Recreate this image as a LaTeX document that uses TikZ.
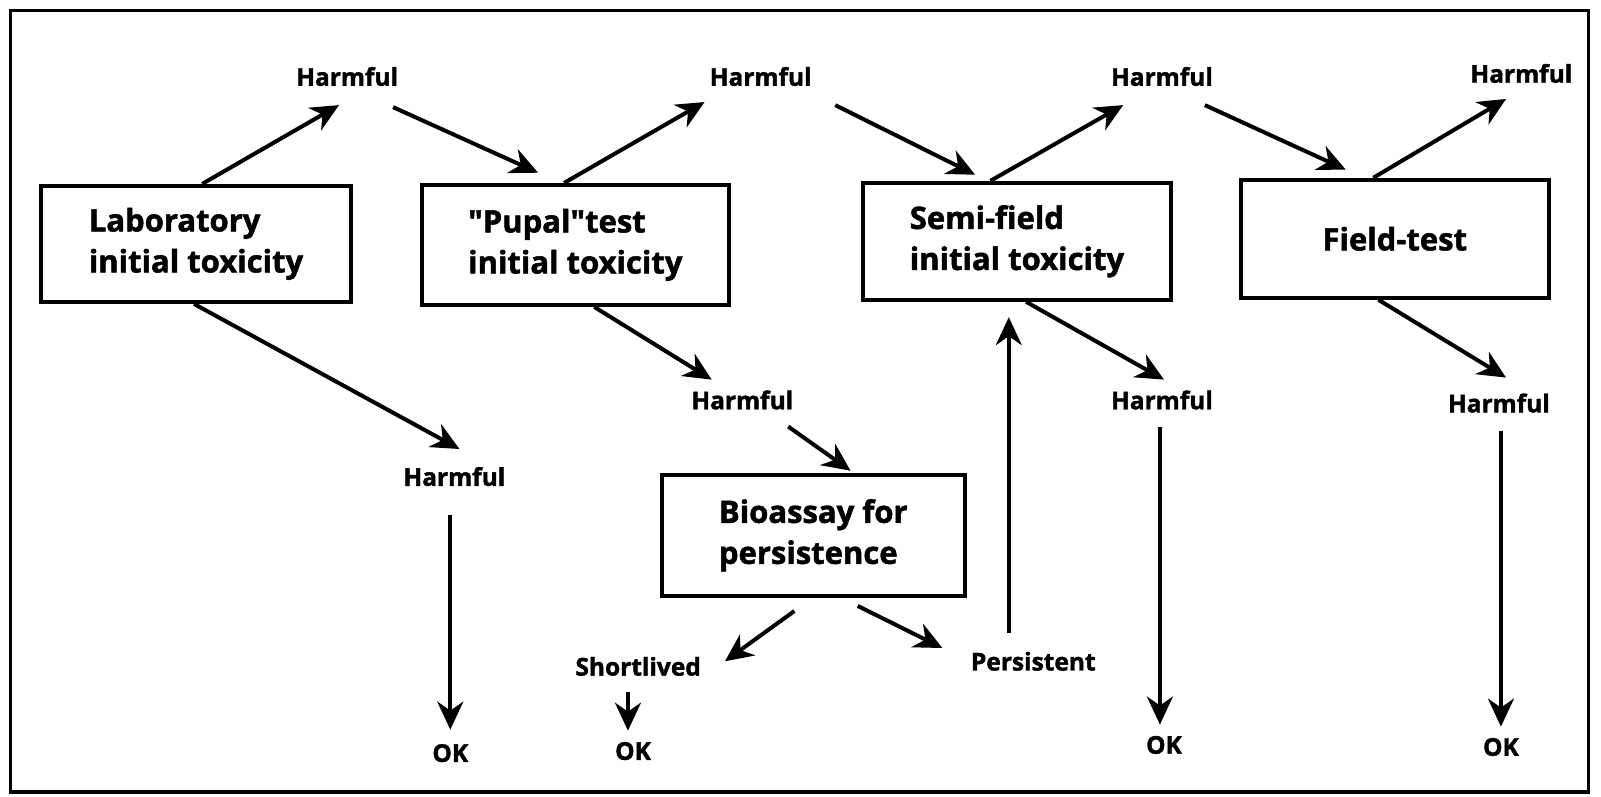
\documentclass[tikz,border=0pt]{standalone}
\usepackage{fontspec}
\setmainfont{Open Sans}[BoldFeatures={FakeBold=1.6}]
\newfontfamily\qfont{Open Sans}[BoldFeatures={FakeBold=1.6}]
\usetikzlibrary{calc,arrows.meta}
\begin{document}
\begin{tikzpicture}[x=1.02105pt,y=-1.02049pt,
  every node/.style={font=\bfseries},
  stepbox/.style={draw,line width=4pt,minimum width=#1,inner sep=0pt,align=left,font=\bfseries\fontsize{31}{41}\selectfont},
  lbl/.style={inner sep=0pt,font=\bfseries\fontsize{24.5}{28}\selectfont},
  arr/.style={line width=4pt,-{Stealth[length=28pt,width=26pt,inset=9pt]}}]
\useasboundingbox (0,0) rectangle (1568,781);
\fill[white] (0,0) rectangle (1568,781);
\draw[line width=3.2pt] (10,10) rectangle (1556,776);
% boxes
\node[stepbox=310,minimum height=116] (lab) at (192,239) {Laboratory\\initial toxicity};
\node[stepbox=307,minimum height=120] (pupal) at (563.5,240) {{\qfont\bfseries"}Pupal{\qfont\bfseries"}test\\initial toxicity};
\node[stepbox=308,minimum height=117] (semi) at (996,236.5) {Semi-field\\initial toxicity};
\node[stepbox=308,minimum height=118] (field) at (1366,234) {Field-test};
\node[stepbox=303,minimum height=121] (bio) at (796.5,524.5) {Bioassay for\\persistence};
% labels
\node[lbl] (h1) at (340,75) {Harmful};
\node[lbl] (h2) at (745,75) {Harmful};
\node[lbl] (h3) at (1138,75) {Harmful};
\node[lbl] (h4) at (1490,72) {Harmful};
\node[lbl] (hm) at (727,392) {Harmful};
\node[lbl] (hs) at (1138,392) {Harmful};
\node[lbl] (hf) at (1468,395) {Harmful};
\node[lbl] (hl) at (445,467) {Harmful};
\node[lbl] (short) at (625,653) {Shortlived};
\node[lbl] (pers) at (1012,648) {Persistent};
\node[lbl] (okl) at (441,738) {OK};
\node[lbl] (oks) at (620,736) {OK};
\node[lbl] (oksm) at (1140,730) {OK};
\node[lbl] (okf) at (1470,732) {OK};
% arrows
\draw[arr] ($(lab.north)+(6,0)$) -- ($(h1)+(-8,28)$);
\draw[arr] ($(h1)+(45,30)$) -- ($(pupal.north)+(-36.5,-10)$);
\draw[arr] ($(pupal.north)+(-11,0)$) -- ($(h2)+(-55,25)$);
\draw[arr] ($(h2)+(73,28)$) -- ($(semi.north)+(-41,-6)$);
\draw[arr] ($(semi.north)+(-26,0)$) -- ($(h3)+(-38,28)$);
\draw[arr] ($(h3)+(42,28)$) -- ($(field.north)+(-48,-8)$);
\draw[arr] ($(field.north)+(-21,0)$) -- ($(h4)+(-15,25)$);
\draw[arr] ($(lab.south)+(-2,0)$) -- ($(hl)+(5,-27)$);
\draw[arr] ($(pupal.south)+(18.5,0)$) -- ($(hm)+(-30,-20)$);
\draw[arr] ($(semi.south)+(9,0)$) -- ($(hs)+(2,-20)$);
\draw[arr] ($(field.south)+(-16,0)$) -- ($(hf)+(7,-25)$);
\draw[arr] ($(hl)+(-4,38)$) -- ($(okl)+(0,-23)$);
\draw[arr] ($(hm)+(45,26)$) -- ($(bio.north)+(36.5,-2)$);
\draw[arr] ($(bio.south)+(-18.5,13)$) -- ($(short)+(85,-5)$);
\draw[arr] ($(bio.south)+(43.5,8)$) -- ($(pers)+(-89,-13)$);
\draw[arr] ($(short)+(-10,25)$) -- ($(oks)+(-5,-20)$);
\draw[arr] ($(pers)+(-24,-28)$) -- ($(semi.south)+(-8,15)$);
\draw[arr] ($(hs)+(-2,26)$) -- ($(oksm)+(-4,-20)$);
\draw[arr] ($(hf)+(2,27)$) -- ($(okf)+(0,-20)$);
\end{tikzpicture}
\end{document}
